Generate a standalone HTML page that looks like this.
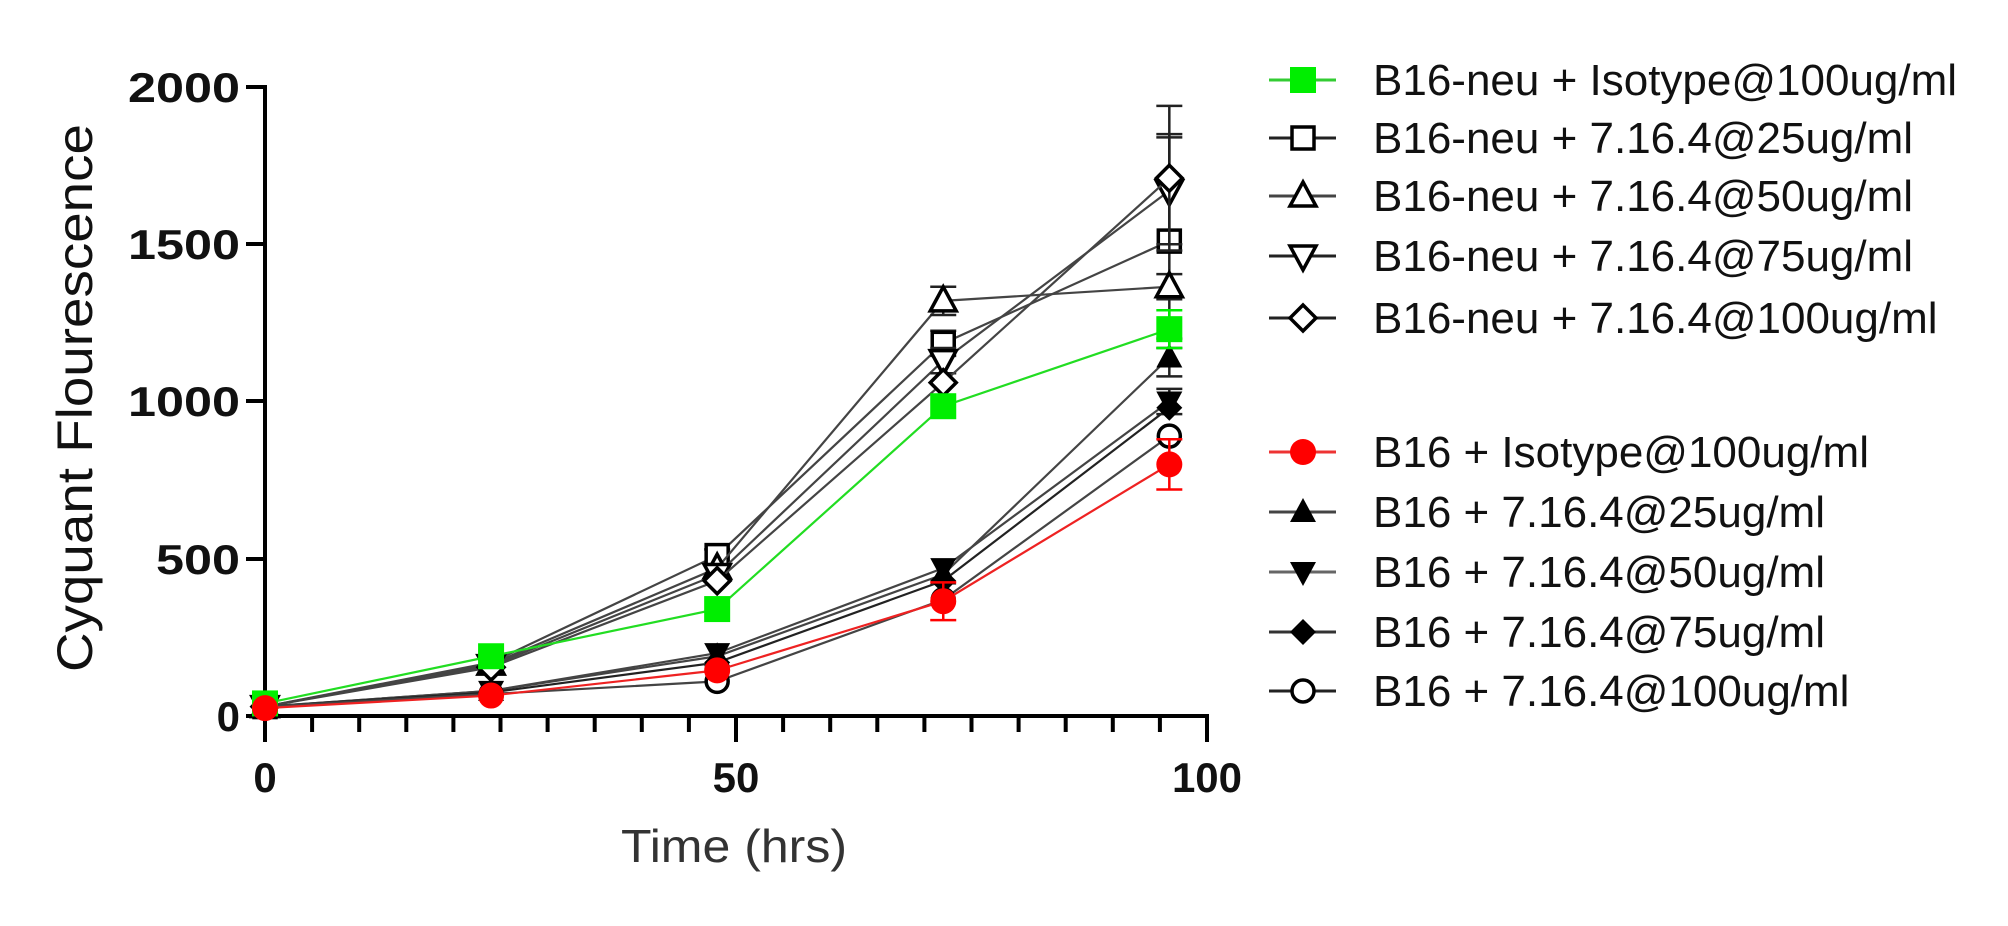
<!DOCTYPE html>
<html><head><meta charset="utf-8"><style>
html,body{margin:0;padding:0;background:#fff;}
svg{display:block;}
text{font-family:"Liberation Sans",Arial,sans-serif;}
</style></head><body>
<svg id="s" width="2008" height="926" viewBox="0 0 2008 926" xmlns="http://www.w3.org/2000/svg">
<rect width="2008" height="926" fill="#fff"/>
<g id="axes" stroke="#000" stroke-width="4" fill="none">
<line x1="265" y1="85" x2="265" y2="716"/>
<line x1="263" y1="716" x2="1209" y2="716"/>
<line x1="246" y1="87" x2="265" y2="87"/>
<line x1="246" y1="244" x2="265" y2="244"/>
<line x1="246" y1="401" x2="265" y2="401"/>
<line x1="246" y1="559" x2="265" y2="559"/>
<line x1="246" y1="716" x2="265" y2="716"/>
</g>
<g id="xt" stroke="#000" stroke-width="4"></g>
<g font-weight="bold" font-size="42" text-anchor="end" fill="#111">
<text x="240" y="102" textLength="112" lengthAdjust="spacingAndGlyphs">2000</text>
<text x="240" y="259" textLength="112" lengthAdjust="spacingAndGlyphs">1500</text>
<text x="240" y="416" textLength="112" lengthAdjust="spacingAndGlyphs">1000</text>
<text x="240" y="574" textLength="84" lengthAdjust="spacingAndGlyphs">500</text>
<text x="240" y="731">0</text>
</g>
<g font-weight="bold" font-size="42" text-anchor="middle" fill="#111">
<text x="265" y="792">0</text>
<text x="736" y="792">50</text>
<text x="1207" y="792">100</text>
</g>
<text x="734" y="862" font-size="46" text-anchor="middle" fill="#333" textLength="226" lengthAdjust="spacingAndGlyphs">Time (hrs)</text>
<text transform="translate(92,398) rotate(-90)" font-size="50" text-anchor="middle" fill="#111" textLength="548" lengthAdjust="spacingAndGlyphs">Cyquant Flourescence</text>
<g id="data"></g>
<g id="leg"></g>
<g font-size="44" fill="#111">
<text x="1373" y="95">B16-neu + Isotype@100ug/ml</text>
<text x="1373" y="153">B16-neu + 7.16.4@25ug/ml</text>
<text x="1373" y="211">B16-neu + 7.16.4@50ug/ml</text>
<text x="1373" y="271">B16-neu + 7.16.4@75ug/ml</text>
<text x="1373" y="333">B16-neu + 7.16.4@100ug/ml</text>
<text x="1373" y="467">B16 + Isotype@100ug/ml</text>
<text x="1373" y="527">B16 + 7.16.4@25ug/ml</text>
<text x="1373" y="587">B16 + 7.16.4@50ug/ml</text>
<text x="1373" y="647">B16 + 7.16.4@75ug/ml</text>
<text x="1373" y="706">B16 + 7.16.4@100ug/ml</text>
</g>
</svg>
<script>
(function(){
var NS="http://www.w3.org/2000/svg";
function el(p,t,a){var e=document.createElementNS(NS,t);for(var k in a)e.setAttribute(k,a[k]);p.appendChild(e);return e;}
function PX(t){return 265+t*9.42;}function PY(v){return 716-v*0.3145;}
var xt=document.getElementById('xt');
for(var v=0;v<=100;v+=5){var xx=PX(v);var L=(v%50==0)?26:16;el(xt,'line',{x1:xx,y1:716,x2:xx,y2:716+L});}
function marker(g,type,cx,cy,col){
 var s=13,sw=3.5;
 if(type=='sq')el(g,'rect',{x:cx-s,y:cy-s,width:2*s,height:2*s,fill:col,stroke:'none'});
 else if(type=='osq')el(g,'rect',{x:cx-s+2,y:cy-s+2,width:2*s-4,height:2*s-4,fill:'#fff',stroke:'#000','stroke-width':sw});
 else if(type=='otu')el(g,'polygon',{points:(cx)+','+(cy-s-1)+' '+(cx+s)+','+(cy+s-3)+' '+(cx-s)+','+(cy+s-3),fill:'#fff',stroke:'#000','stroke-width':sw});
 else if(type=='otd')el(g,'polygon',{points:(cx)+','+(cy+s+1)+' '+(cx+s)+','+(cy-s+3)+' '+(cx-s)+','+(cy-s+3),fill:'#fff',stroke:'#000','stroke-width':sw});
 else if(type=='odi')el(g,'polygon',{points:cx+','+(cy-s)+' '+(cx+s)+','+cy+' '+cx+','+(cy+s)+' '+(cx-s)+','+cy,fill:'#fff',stroke:'#000','stroke-width':sw});
 else if(type=='ci')el(g,'circle',{cx:cx,cy:cy,r:s,fill:col});
 else if(type=='tu')el(g,'polygon',{points:(cx)+','+(cy-s-1)+' '+(cx+s)+','+(cy+s-3)+' '+(cx-s)+','+(cy+s-3),fill:'#000'});
 else if(type=='td')el(g,'polygon',{points:(cx)+','+(cy+s+1)+' '+(cx+s)+','+(cy-s+3)+' '+(cx-s)+','+(cy-s+3),fill:'#000'});
 else if(type=='di')el(g,'polygon',{points:cx+','+(cy-s)+' '+(cx+s)+','+cy+' '+cx+','+(cy+s)+' '+(cx-s)+','+cy,fill:'#000'});
 else if(type=='oci')el(g,'circle',{cx:cx,cy:cy,r:s-2,fill:'#fff',stroke:'#000','stroke-width':sw});
}
var T=[0,24,48,72,96];
var S=[
 {m:'osq',c:'#444',v:[30,170,510,1185,1510],e:[0,0,20,40,340]},
 {m:'otu',c:'#444',v:[30,165,470,1320,1365],e:[0,0,0,45,40]},
 {m:'otd',c:'#444',v:[30,160,450,1130,1670],e:[0,0,0,40,170]},
 {m:'odi',c:'#444',v:[30,155,430,1060,1710],e:[0,0,0,0,230]},
 {m:'tu',c:'#444',v:[30,80,190,450,1140],e:[0,0,0,0,60]},
 {m:'td',c:'#444',v:[30,80,200,470,1000],e:[0,0,0,0,40]},
 {m:'di',c:'#222',v:[30,75,170,430,980],e:[0,0,0,0,0]},
 {m:'oci',c:'#444',v:[30,70,110,370,890],e:[0,0,0,0,0]},
 {m:'sq',c:'#22dd22',mc:'#00ee00',v:[40,190,340,985,1230],e:[0,0,0,0,60]},
 {m:'ci',c:'#ee2222',mc:'#ff0000',v:[25,65,145,365,800],e:[0,0,0,60,80]}
];
var d=document.getElementById('data');
S.forEach(function(s){
 var p=T.map(function(t,i){return PX(t)+','+PY(s.v[i]);}).join(' ');
 el(d,'polyline',{points:p,fill:'none',stroke:s.c,'stroke-width':2.2});
 T.forEach(function(t,i){if(s.e[i]){var x=PX(t),y1=PY(s.v[i]+s.e[i]),y2=PY(s.v[i]-s.e[i]);var ec=s.mc||'#222';
  el(d,'line',{x1:x,y1:y1,x2:x,y2:y2,stroke:ec,'stroke-width':2.5});
  el(d,'line',{x1:x-13,y1:y1,x2:x+13,y2:y1,stroke:ec,'stroke-width':2.5});
  el(d,'line',{x1:x-13,y1:y2,x2:x+13,y2:y2,stroke:ec,'stroke-width':2.5});}});
 T.forEach(function(t,i){marker(d,s.m,PX(t),PY(s.v[i]),s.mc||'#000');});
});
var lg=document.getElementById('leg');
var LR=[[80,'sq','#33cc33','#00ee00'],[138,'osq','#222'],[196,'otu','#444'],[256,'otd','#222'],[318,'odi','#222'],
 [452,'ci','#ee3333','#ff0000'],[512,'tu','#444'],[572,'td','#666'],[632,'di','#333'],[691,'oci','#222']];
LR.forEach(function(r){el(lg,'line',{x1:1269,y1:r[0],x2:1336,y2:r[0],stroke:r[2],'stroke-width':3});marker(lg,r[1],1303,r[0],r[3]||'#000');});
})();
</script>
</body></html>
